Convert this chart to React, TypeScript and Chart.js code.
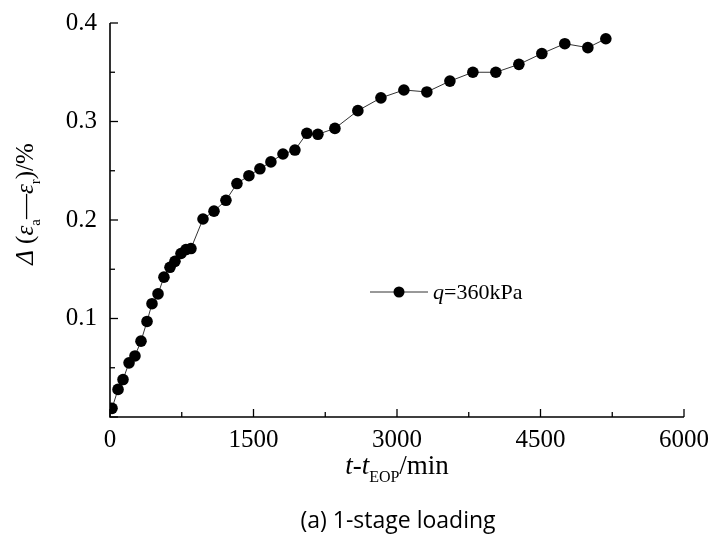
import React, { useEffect, useRef } from "react";
import { Chart, registerables } from "chart.js";

Chart.register(...registerables);

const TIME_MIN = [21, 84, 136, 199, 261, 324, 387, 439, 502, 564, 627, 679, 742, 794, 846, 972, 1087, 1212, 1327, 1452, 1567, 1682, 1808, 1933, 2058, 2173, 2351, 2591, 2832, 3072, 3312, 3553, 3793, 4033, 4274, 4514, 4754, 4995, 5183];
const STRAIN_DIFF = [0.0088, 0.028, 0.038, 0.055, 0.062, 0.077, 0.097, 0.115, 0.125, 0.142, 0.152, 0.158, 0.166, 0.170, 0.171, 0.201, 0.209, 0.220, 0.237, 0.245, 0.252, 0.259, 0.267, 0.271, 0.288, 0.287, 0.293, 0.311, 0.324, 0.332, 0.330, 0.341, 0.350, 0.350, 0.358, 0.369, 0.379, 0.375, 0.384];
const X_TICKS = [0, 1500, 3000, 4500, 6000];
const Y_TICKS = [0.1, 0.2, 0.3, 0.4];
const SERIES_LABEL = "q=360kPa";
const CAPTION = "(a) 1-stage loading";

const SERIF = "'Liberation Serif', 'Times New Roman', serif";

type Piece = { t: string; italic?: boolean; sub?: boolean };

function drawRich(ctx: CanvasRenderingContext2D, pieces: Piece[], size: number, x: number, y: number, align: "center" | "left") {
  const fontFor = (p: Piece) => `${p.italic ? "italic " : ""}${p.sub ? Math.round(size * 0.6) : size}px ${SERIF}`;
  let total = 0;
  const widths = pieces.map((p) => {
    ctx.font = fontFor(p);
    const w = ctx.measureText(p.t).width;
    total += w;
    return w;
  });
  let cx = align === "center" ? x - total / 2 : x;
  ctx.textBaseline = "alphabetic";
  ctx.textAlign = "left";
  pieces.forEach((p, i) => {
    ctx.font = fontFor(p);
    ctx.fillText(p.t, cx, p.sub ? y + size * 0.28 : y);
    cx += widths[i];
  });
}

const decorPlugin = {
  id: "decor",
  afterDraw(chart: any) {
    const ctx: CanvasRenderingContext2D = chart.ctx;
    const xs = chart.scales.x;
    const ys = chart.scales.y;
    const { left, right, top, bottom } = chart.chartArea;
    ctx.save();
    ctx.strokeStyle = "#000";
    ctx.fillStyle = "#000";
    ctx.lineWidth = 1.6;
    ctx.beginPath();
    ctx.moveTo(left, top);
    ctx.lineTo(left, bottom);
    ctx.lineTo(right, bottom);
    ctx.stroke();
    ctx.lineWidth = 1.3;
    for (let v = 0; v <= 6000; v += 750) {
      const px = xs.getPixelForValue(v);
      const len = v % 1500 === 0 ? 8 : 5;
      ctx.beginPath();
      ctx.moveTo(px, bottom);
      ctx.lineTo(px, bottom - len);
      ctx.stroke();
    }
    for (let i = 0; i <= 8; i++) {
      const v = i * 0.05;
      const py = ys.getPixelForValue(v);
      const len = i % 2 === 0 ? 8 : 5;
      ctx.beginPath();
      ctx.moveTo(left, py);
      ctx.lineTo(left + len, py);
      ctx.stroke();
    }
    // x title
    drawRich(ctx, [
      { t: "t", italic: true },
      { t: "-" },
      { t: "t", italic: true },
      { t: "EOP", sub: true },
      { t: "/min" },
    ], 27, 397, 474, "center");
    // y title
    ctx.save();
    ctx.translate(33, 204);
    ctx.rotate(-Math.PI / 2);
    drawRich(ctx, [
      { t: "Δ", italic: true },
      { t: " (" },
      { t: "ε", italic: true },
      { t: "a", sub: true },
      { t: "—" },
      { t: "ε", italic: true },
      { t: "r", sub: true },
      { t: ")/%" },
    ], 25, 0, 0, "center");
    ctx.restore();
    // legend
    const ly = 292;
    ctx.strokeStyle = "#333";
    ctx.lineWidth = 1;
    ctx.beginPath();
    ctx.moveTo(370, ly);
    ctx.lineTo(428, ly);
    ctx.stroke();
    ctx.beginPath();
    ctx.arc(399, ly, 5.5, 0, Math.PI * 2);
    ctx.fill();
    drawRich(ctx, [
      { t: SERIES_LABEL.slice(0, 1), italic: true },
      { t: SERIES_LABEL.slice(1) },
    ], 22, 433, ly + 7, "left");
    // caption
    ctx.font = "23px 'Open Sans', 'Noto Sans', sans-serif";
    ctx.textAlign = "center";
    ctx.textBaseline = "alphabetic";
    ctx.fillText(CAPTION, 398, 528);
    ctx.restore();
  },
};

export default function App() {
  const ref = useRef<HTMLCanvasElement | null>(null);
  useEffect(() => {
    if (!ref.current) return;
    const chart = new Chart(ref.current, {
      type: "scatter",
      data: {
        datasets: [
          {
            label: SERIES_LABEL,
            data: TIME_MIN.map((x, i) => ({ x, y: STRAIN_DIFF[i] })),
            showLine: true,
            borderColor: "#333",
            borderWidth: 1,
            backgroundColor: "#000",
            pointBackgroundColor: "#000",
            pointBorderColor: "#000",
            pointRadius: 5.8,
            pointBorderWidth: 0,
          },
        ],
      },
      options: {
        responsive: false,
        animation: false,
        devicePixelRatio: 1,
        layout: { padding: { left: 0, top: 23, right: 31, bottom: 0 } },
        plugins: { legend: { display: false }, tooltip: { enabled: false } },
        scales: {
          x: {
            type: "linear",
            min: 0,
            max: 6000,
            afterFit: (s: any) => { s.height = 132; s.paddingLeft = 0; s.paddingRight = 0; },
            afterBuildTicks: (s: any) => { s.ticks = X_TICKS.map((v) => ({ value: v })); },
            grid: { display: false, drawTicks: false },
            border: { display: false },
            ticks: { color: "#000", padding: 8, font: { family: SERIF, size: 25 }, maxRotation: 0, callback: (v: any) => String(v) },
          },
          y: {
            type: "linear",
            min: 0,
            max: 0.4,
            afterFit: (s: any) => { s.width = 110; s.paddingTop = 0; s.paddingBottom = 0; },
            afterBuildTicks: (s: any) => { s.ticks = Y_TICKS.map((v) => ({ value: v })); },
            grid: { display: false, drawTicks: false },
            border: { display: false },
            ticks: { color: "#000", padding: 13, font: { family: SERIF, size: 25 }, callback: (v: any) => Number(v).toFixed(1) },
          },
        },
      },
      plugins: [decorPlugin],
    });
    return () => chart.destroy();
  }, []);
  return (
    <div style={{ position: "absolute", left: 0, top: 0, width: 715, height: 549, background: "#fff" }}>
      <canvas ref={ref} width={715} height={549} />
    </div>
  );
}
